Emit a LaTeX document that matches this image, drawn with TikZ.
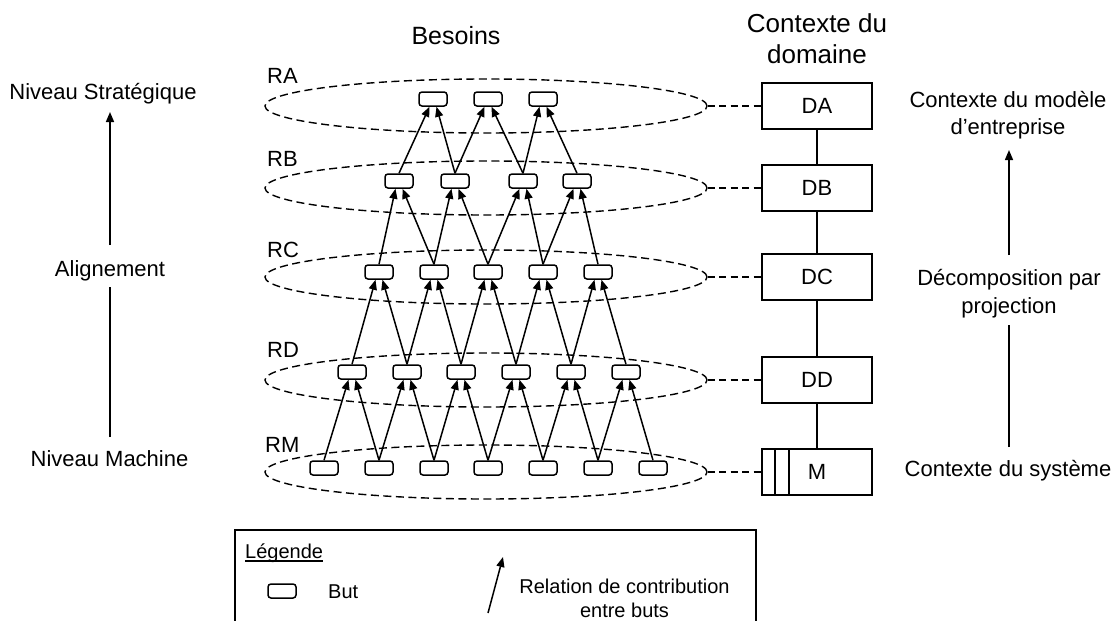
\documentclass[tikz,border=0pt]{standalone}
\usepackage{fontspec}
\setmainfont{Liberation Sans}
\usetikzlibrary{arrows.meta,shapes.geometric}
\begin{document}
\begin{tikzpicture}[x=1pt,y=-1pt,
  goal/.style={draw, rounded corners=3pt, minimum width=28pt, minimum height=14pt, inner sep=0pt, line width=1.5pt, fill=white},
  level/.style={draw, dash pattern=on 8pt off 4.5pt, ellipse, minimum width=442pt, minimum height=54pt, inner sep=0pt, line width=1.4pt},
  link/.style={dash pattern=on 7pt off 4.5pt, line width=1.4pt},
  dombox/.style={draw, minimum width=110pt, minimum height=46pt, inner sep=0pt, line width=1.6pt, font=\fontsize{22}{26}\selectfont},
  contrib/.style={-{Triangle[length=10pt,width=8pt]}, line width=1.5pt},
  bigarrow/.style={-{Triangle[length=10pt,width=8pt]}, line width=1.5pt},
  lbl/.style={inner sep=0pt, anchor=base, font=\fontsize{22}{26}\selectfont},
  head/.style={inner sep=0pt, anchor=base, font=\fontsize{26}{30}\selectfont},
  leg/.style={inner sep=0pt, anchor=base, font=\fontsize{20}{24}\selectfont}
]
\useasboundingbox (0,0) rectangle (1120,621);

% headers
\node[head, font=\fontsize{25}{30}\selectfont] (hbes) at (456,45) {Besoins};
\node[head] (hctx1) at (817,32) {Contexte du};
\node[head] (hctx2) at (817,63) {domaine};

% level ellipses
\node[level] (EA) at (486,106) {};
\node[level] (EB) at (486,188) {};
\node[level] (EC) at (486,277) {};
\node[level] (ED) at (486,380) {};
\node[level] (EM) at (486,472) {};

% level labels
\node[lbl, anchor=base west] (lRA) at (267,83) {RA};
\node[lbl, anchor=base west] (lRB) at (267,166) {RB};
\node[lbl, anchor=base west] (lRC) at (267,257) {RC};
\node[lbl, anchor=base west] (lRD) at (267,357) {RD};
\node[lbl, anchor=base west] (lRM) at (265,452) {RM};

% domain boxes
\node[dombox] (DA) at (817,106) {DA};
\node[dombox] (DB) at (817,188) {DB};
\node[dombox] (DC) at (817,277) {DC};
\node[dombox] (DD) at (817,380) {DD};
\node[dombox] (DM) at (817,472) {M};
\draw[line width=1.6pt] ([xshift=14pt]DM.north west) -- ([xshift=14pt]DM.south west);
\draw[line width=1.6pt] ([xshift=28pt]DM.north west) -- ([xshift=28pt]DM.south west);
\draw[line width=1.6pt] (DA.south) -- (DB.north);
\draw[line width=1.6pt] (DB.south) -- (DC.north);
\draw[line width=1.6pt] (DC.south) -- (DD.north);
\draw[line width=1.6pt] (DD.south) -- (DM.north);

% dashed links
\draw[link] (EA.east) -- (DA.west);
\draw[link] (EB.east) -- (DB.west);
\draw[link] (EC.east) -- (DC.west);
\draw[link] (ED.east) -- (DD.west);
\draw[link] (EM.east) -- (DM.west);

% goals
\foreach \x [count=\i] in {433,488,543} \node[goal] (gA\i) at (\x,99) {};
\foreach \x [count=\i] in {399,455,523,577} \node[goal] (gB\i) at (\x,181) {};
\foreach \x [count=\i] in {379,434,488,543,598} \node[goal] (gC\i) at (\x,272) {};
\foreach \x [count=\i] in {352,407,461,516,571,626} \node[goal] (gD\i) at (\x,372) {};
\foreach \x [count=\i] in {324,379,434,488,543,598,653} \node[goal] (gM\i) at (\x,468) {};

% contributions
\foreach \i [evaluate=\i as \j using int(\i+1)] in {1,2,3} {
  \draw[contrib] (gB\i.north) -- ([xshift=-3.5pt]gA\i.south);
  \draw[contrib] (gB\j.north) -- ([xshift=3.5pt]gA\i.south);
}
\foreach \i [evaluate=\i as \j using int(\i+1)] in {1,2,3,4} {
  \draw[contrib] (gC\i.north) -- ([xshift=-3.5pt]gB\i.south);
  \draw[contrib] (gC\j.north) -- ([xshift=3.5pt]gB\i.south);
}
\foreach \i [evaluate=\i as \j using int(\i+1)] in {1,2,3,4,5} {
  \draw[contrib] (gD\i.north) -- ([xshift=-3.5pt]gC\i.south);
  \draw[contrib] (gD\j.north) -- ([xshift=3.5pt]gC\i.south);
}
\foreach \i [evaluate=\i as \j using int(\i+1)] in {1,2,3,4,5,6} {
  \draw[contrib] (gM\i.north) -- ([xshift=-3.5pt]gD\i.south);
  \draw[contrib] (gM\j.north) -- ([xshift=3.5pt]gD\i.south);
}

% left axis
\node[lbl] (nstrat) at (103,99) {Niveau Stratégique};
\node[lbl] (nalign) at (110,276) {Alignement};
\node[lbl] (nmach) at (109.5,466) {Niveau Machine};
\coordinate (la0) at (110,437);
\coordinate (la1) at (110,287);
\coordinate (la2) at (110,245);
\coordinate (la3) at (110,112);
\draw[line width=1.5pt] (la0) -- (la1);
\draw[bigarrow] (la2) -- (la3);

% right axis
\node[lbl] (rctx1) at (1008,107) {Contexte du modèle};
\node[lbl] (rctx2) at (1008,134) {d’entreprise};
\node[lbl] (rdec1) at (1009,285) {Décomposition par};
\node[lbl] (rdec2) at (1009,313) {projection};
\node[lbl] (rsys) at (1008,476) {Contexte du système};
\coordinate (ra0) at (1009,447);
\coordinate (ra1) at (1009,325);
\coordinate (ra2) at (1009,255);
\coordinate (ra3) at (1009,150);
\draw[line width=1.5pt] (ra0) -- (ra1);
\draw[bigarrow] (ra2) -- (ra3);

% legend
\draw[line width=1.6pt] (235,625) -- (235,530) -- (756,530) -- (756,625);
\node[leg, anchor=base west] (legt) at (245,558) {Légende};
\draw[line width=1.4pt] ([yshift=-3pt]legt.base west) -- ([yshift=-3pt]legt.base east);
\node[goal] (leggoal) at (282,591) {};
\node[leg, anchor=base west] (legbut) at (328,598) {But};
\coordinate (lar0) at (488,613);
\coordinate (lar1) at (503,557);
\draw[contrib] (lar0) -- (lar1);
\node[leg] (legrel1) at (624.5,593) {Relation de contribution};
\node[leg] (legrel2) at (624.5,617) {entre buts};
\end{tikzpicture}
\end{document}
